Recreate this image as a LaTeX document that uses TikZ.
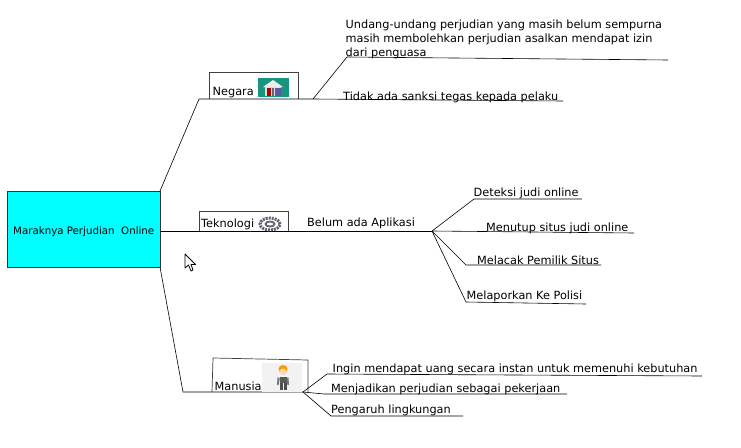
\documentclass[tikz,border=0pt]{standalone}
\usepackage{fontspec}
\usetikzlibrary{shapes.geometric}
\setmainfont{DejaVu Sans}
\definecolor{rootcyan}{RGB}{0,255,255}
\definecolor{iconteal}{RGB}{24,150,125}
\definecolor{gearc}{RGB}{95,100,110}
\tikzset{
 x=1pt,y=-1pt,
 lbl/.style={inner sep=0pt,anchor=base west,font=\fontsize{11.3}{14}\selectfont,text=black},
 branch/.style={draw=black,line width=0.6pt},
 frame/.style={draw=black!75,line width=0.7pt},
}
\begin{document}
\begin{tikzpicture}
\useasboundingbox (0,0) rectangle (741,447);
\fill[white] (0,0) rectangle (741,447);
% root
\node[draw=black!80,fill=rootcyan,line width=0.6pt,minimum width=153pt,minimum height=76pt,inner sep=0pt,anchor=north west] (root) at (7,191) {};
\node[lbl,font=\fontsize{10.25}{13}\selectfont] (roott) at (13,234) {Maraknya Perjudian\ \ Online};
% Negara
\coordinate (n0) at (160,191);
\coordinate (n1) at (199,99);
\coordinate (n2) at (313,99);
\coordinate (n3) at (563,101);
\coordinate (n4) at (347,57);
\coordinate (n5) at (668,60);
\draw[frame] (209,99) -- (209,72) -- (298,72) -- (298,99);
\draw[branch] (n0) -- (n1) -- (n2) -- (n3);
\draw[branch] (n2) -- (n4) -- (n5);
\node[lbl] (negara) at (212.5,95) {Negara};
\node[inner sep=0pt,fill=iconteal,minimum width=31pt,minimum height=19pt,anchor=north west] (negaraicon) at (258,78) {};
\fill[white!85!gray] (273,80) -- (263,87) -- (283,87) -- cycle;
\fill[white!75!gray] (265,87) rectangle (281,96);
\fill[red!70!black] (267,88) rectangle (271,96);
\fill[blue!30!gray] (275,88) rectangle (281,96);
\fill[black!60] (272,88) rectangle (274,96);
\node[lbl,align=left,anchor=north west] (n5t) at (345.5,18) {\rule{0pt}{10pt}Undang-undang perjudian yang masih belum sempurna\\masih membolehkan perjudian asalkan mendapat izin\\dari penguasa};
\node[lbl] (n3t) at (343,100) {Tidak ada sanksi tegas kepada pelaku};
% Teknologi
\coordinate (t0) at (160,231);
\coordinate (t1) at (432,231);
\draw[frame] (199,231) -- (199,211) -- (288,211) -- (288,231);
\draw[branch] (t0) -- (t1);
\node[lbl] (tek) at (201,227) {Teknologi};
\node[ellipse,draw=gearc,dash pattern=on 2pt off 1pt,line width=3pt,minimum width=20pt,minimum height=12pt,inner sep=0pt] (teki1) at (270,224) {};
\node[ellipse,draw=gearc,line width=1.8pt,minimum width=9pt,minimum height=5pt,inner sep=0pt] (teki2) at (270,224) {};
\node[lbl] (tb) at (307,226) {Belum ada Aplikasi};
\coordinate (a1) at (474,199);
\coordinate (a2) at (582,199);
\coordinate (b1) at (634,233);
\coordinate (c1) at (466,265);
\coordinate (c2) at (601,265);
\coordinate (d1) at (466,302);
\coordinate (d2) at (586,304);
\draw[branch] (t1) -- (a1) -- (a2);
\draw[branch] (t1) -- (b1);
\draw[branch] (t1) -- (c1) -- (c2);
\draw[branch] (t1) -- (d1) -- (d2);
\node[lbl] (at) at (473.5,196) {Deteksi judi online};
\node[lbl] (bt) at (486,231) {Menutup situs judi online};
\node[lbl] (ct) at (477,264) {Melacak Pemilik Situs};
\node[lbl] (dt) at (466.5,299) {Melaporkan Ke Polisi};
% Manusia
\coordinate (m0) at (160,267);
\coordinate (m1) at (183,392);
\coordinate (m2) at (303,392);
\draw[frame] (212,392) -- (213,358) -- (308,360) -- (308,392);
\draw[branch] (m0) -- (m1) -- (m2);
\node[lbl] (man) at (214.5,390) {Manusia};
\fill[black!5] (262,363) rectangle (302,392);
\fill[orange!80!yellow] (283,369) ellipse (4.5pt and 4pt);
\fill[orange!30!white] (283,372) circle (3.4pt);
\fill[black!65] (279.5,377) rectangle (286.5,383);
\fill[black!55] (277.5,377.5) -- (279.5,377.5) -- (279.5,380) -- (278.5,385) -- (277,385) -- cycle;
\fill[black!55] (288.5,377.5) -- (286.5,377.5) -- (286.5,380) -- (287.5,385) -- (289,385) -- cycle;
\fill[black!70] (279.5,383) rectangle (282.5,390);
\fill[black!70] (283.5,383) rectangle (286.5,390);
\coordinate (e1) at (327,374);
\coordinate (e2) at (702,376);
\coordinate (f1) at (324,394);
\coordinate (f2) at (567,394);
\coordinate (g1) at (331,416);
\coordinate (g2) at (463,416);
\draw[branch] (m2) -- (e1) -- (e2);
\draw[branch] (m2) -- (f1) -- (f2);
\draw[branch] (m2) -- (g1) -- (g2);
\node[lbl] (et) at (332.5,372) {Ingin mendapat uang secara instan untuk memenuhi kebutuhan};
\node[lbl] (ft) at (331,392) {Menjadikan perjudian sebagai pekerjaan};
\node[lbl] (gt) at (331,413) {Pengaruh lingkungan};
% cursor
\draw[fill=white,draw=black,line width=0.8pt,line join=round] (185,254) -- (185,268) -- (188.5,265) -- (191,271) -- (193,270) -- (191,264.5) -- (195.5,264.5) -- cycle;
\end{tikzpicture}
\end{document}
